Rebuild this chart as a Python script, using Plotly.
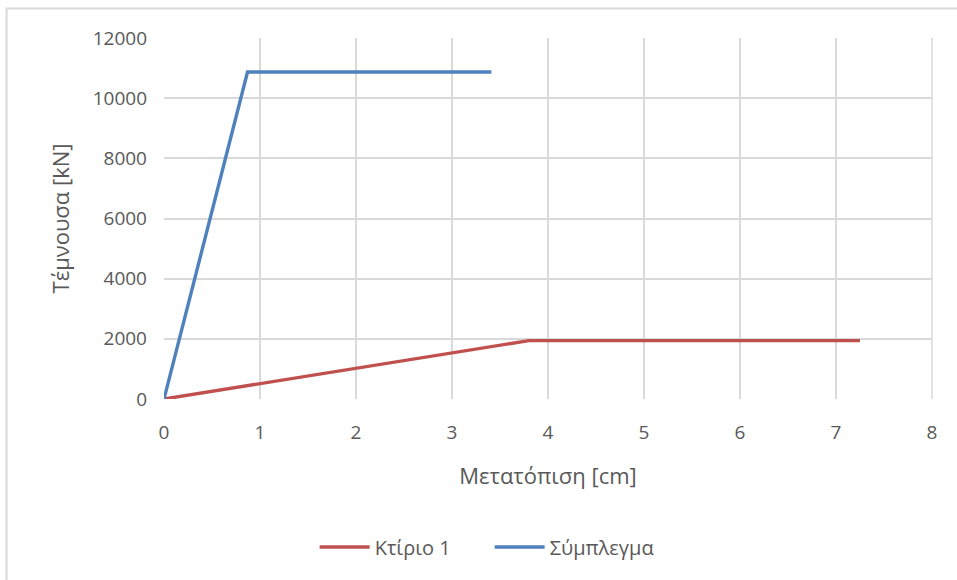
import plotly.graph_objects as go

# Pushover curves: displacement [cm] vs base shear [kN]
building_x = [0, 3.8, 7.25]
building_y = [0, 1940, 1940]
complex_x = [0, 0.87, 3.41]
complex_y = [0, 10870, 10870]

x_ticks = [0, 1, 2, 3, 4, 5, 6, 7, 8]
y_ticks = [0, 2000, 4000, 6000, 8000, 10000, 12000]
y_tick_text = [str(v) for v in y_ticks]

font_family = "Open Sans, Liberation Sans, sans-serif"
text_color = "#595959"
grid_color = "#d9d9d9"

fig = go.Figure()
fig.add_trace(go.Scatter(x=building_x, y=building_y, mode="lines", name="Κτίριο 1",
                         line=dict(color="#C0504D", width=3.4)))
fig.add_trace(go.Scatter(x=complex_x, y=complex_y, mode="lines", name="Σύμπλεγμα",
                         line=dict(color="#4F81BD", width=3.4)))

fig.update_layout(
    width=957, height=580,
    margin=dict(l=164, r=25, t=38, b=181),
    paper_bgcolor="white", plot_bgcolor="white",
    font=dict(family=font_family, color=text_color, size=19),
    showlegend=True,
    legend=dict(orientation="h", x=0.424, xanchor="center", y=-0.41, yanchor="middle",
                font=dict(size=20, color=text_color), itemwidth=50, entrywidth=110),
    xaxis=dict(range=[0, 8], tickvals=x_ticks, showgrid=True, gridcolor=grid_color,
               gridwidth=1.5, zeroline=False, showline=False, ticks="",
               ticklabelstandoff=20,
               title=dict(text="Μετατόπιση [cm]", font=dict(size=22, color=text_color), standoff=24),
               tickfont=dict(size=19, color=text_color)),
    yaxis=dict(range=[0, 12000], tickvals=y_ticks, ticktext=y_tick_text, showgrid=True,
               gridcolor=grid_color, gridwidth=1.5, zeroline=False, showline=False, ticks="",
               ticklabelstandoff=16,
               title=dict(text="Τέμνουσα [kN]", font=dict(size=22, color=text_color), standoff=16),
               tickfont=dict(size=19, color=text_color)),
    shapes=[
        # chart frame
        dict(type="rect", xref="paper", yref="paper", x0=-0.205, x1=1.1, y0=-0.6, y1=1.0815,
             line=dict(color="#d9d9d9", width=2), fillcolor="rgba(0,0,0,0)", layer="below"),
        # right edge of the plot area
        dict(type="line", xref="paper", yref="paper", x0=1, x1=1, y0=0, y1=1,
             line=dict(color=grid_color, width=1.5), layer="below"),
    ],
)

fig.write_html("out.html")
